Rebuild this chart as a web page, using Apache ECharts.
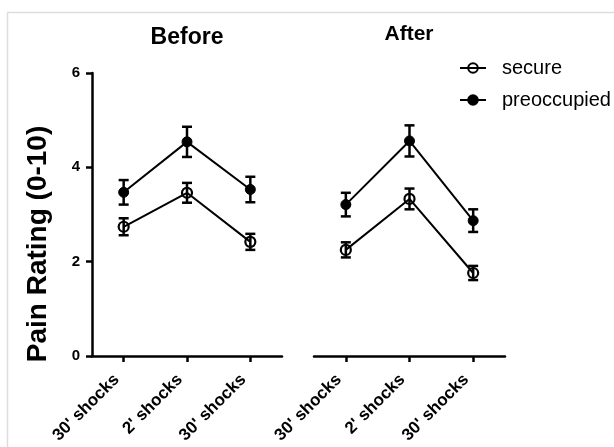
<!DOCTYPE html>
<html>
<head>
<meta charset="utf-8">
<script src="https://cdn.jsdelivr.net/npm/echarts@6/dist/echarts.min.js"></script>
<style>
html,body{margin:0;padding:0;background:#fff;}
#chart{width:614px;height:447px;}
</style>
</head>
<body>
<div id="chart"></div>
<script>
const categories = ["30' shocks", "2' shocks", "30' shocks"];
const yTicks = [0, 2, 4, 6];
const beforeSecure = [2.74, 3.46, 2.42];
const beforeSecureSem = [0.18, 0.21, 0.17];
const beforePreoccupied = [3.47, 4.54, 3.53];
const beforePreoccupiedSem = [0.26, 0.32, 0.27];
const afterSecure = [2.25, 3.33, 1.76];
const afterSecureSem = [0.16, 0.22, 0.15];
const afterPreoccupied = [3.21, 4.56, 2.87];
const afterPreoccupiedSem = [0.25, 0.33, 0.24];
const panelTitles = ['Before', 'After'];
const yAxisTitle = 'Pain Rating (0-10)';

const FONT = 'Liberation Sans, Arial, Helvetica, sans-serif';
const chart = echarts.init(document.getElementById('chart'), null, {renderer: 'canvas'});

function errData(means, sems) {
  return means.map((m, i) => [i, m, sems[i]]);
}
function errSeries(idx, means, sems) {
  return {
    type: 'custom',
    xAxisIndex: idx, yAxisIndex: idx,
    z: 1,
    silent: true,
    data: errData(means, sems),
    renderItem: function (params, api) {
      const x = api.value(0), m = api.value(1), e = api.value(2);
      const top = api.coord([x, m + e]);
      const bot = api.coord([x, m - e]);
      const w = 5;
      const style = {stroke: '#000', lineWidth: 2.5};
      return {
        type: 'group',
        children: [
          {type: 'line', shape: {x1: top[0], y1: top[1], x2: bot[0], y2: bot[1]}, style: style},
          {type: 'line', shape: {x1: top[0] - w, y1: top[1], x2: top[0] + w, y2: top[1]}, style: style},
          {type: 'line', shape: {x1: bot[0] - w, y1: bot[1], x2: bot[0] + w, y2: bot[1]}, style: style}
        ]
      };
    }
  };
}
function lineSeries(name, idx, data, open) {
  return {
    name: name,
    type: 'line',
    xAxisIndex: idx, yAxisIndex: idx,
    z: 3,
    data: data,
    symbol: 'circle',
    symbolSize: 10,
    showSymbol: true,
    color: '#000',
    lineStyle: {color: '#000', width: 2},
    itemStyle: open ? {color: 'rgba(255,255,255,0)', borderColor: '#000', borderWidth: 2.2}
                    : {color: '#000', borderColor: '#000', borderWidth: 1},
    emphasis: {disabled: true},
    animation: false
  };
}

const xAxisCommon = {
  type: 'category',
  data: categories,
  boundaryGap: true,
  axisLine: {show: true, lineStyle: {color: '#000', width: 2.5}},
  axisTick: {show: true, alignWithLabel: true, length: 6, lineStyle: {color: '#000', width: 2.5}},
  axisLabel: {rotate: 45, margin: 14, padding: [0, 10, 0, 0], color: '#000', fontSize: 17, fontWeight: 'bold', fontFamily: FONT, interval: 0},
  splitLine: {show: false}
};

const option = {
  backgroundColor: '#fff',
  animation: false,
  graphic: [{
    type: 'rect',
    shape: {x: 7.5, y: 12.5, width: 620, height: 450},
    style: {fill: 'none', stroke: '#dddddd', lineWidth: 1.5},
    silent: true
  }, {
    type: 'text',
    x: 38, y: 244,
    rotation: Math.PI / 2,
    style: {text: yAxisTitle, fill: '#000', font: 'bold 28px ' + FONT, textAlign: 'center', textVerticalAlign: 'middle'},
    silent: true
  }],
  title: [
    {text: panelTitles[0], left: 187, top: 26, textAlign: 'center', padding: 0,
     textStyle: {fontSize: 23, fontWeight: 'bold', color: '#000', fontFamily: FONT}},
    {text: panelTitles[1], left: 409, top: 24, textAlign: 'center', padding: 0,
     textStyle: {fontSize: 21, fontWeight: 'bold', color: '#000', fontFamily: FONT}}
  ],
  legend: {
    orient: 'vertical',
    left: 454, top: 53,
    itemWidth: 26, itemHeight: 12,
    itemGap: 12,
    data: ['secure', 'preoccupied'],
    textStyle: {fontSize: 20, color: '#000', fontFamily: FONT, padding: [0, 0, 0, 11]},
    selectedMode: false
  },
  grid: [
    {left: 92, top: 73, width: 190, height: 283, containLabel: false},
    {left: 314, top: 73, width: 191, height: 283, containLabel: false}
  ],
  xAxis: [
    Object.assign({}, xAxisCommon, {gridIndex: 0}),
    Object.assign({}, xAxisCommon, {gridIndex: 1})
  ],
  yAxis: [
    {
      type: 'value', gridIndex: 0, min: yTicks[0], max: yTicks[yTicks.length - 1], interval: 2,
      axisLine: {show: true, lineStyle: {color: '#000', width: 2.5}},
      axisTick: {show: true, length: 6, lineStyle: {color: '#000', width: 2.5}},
      axisLabel: {color: '#000', fontSize: 15, fontWeight: 'bold', fontFamily: FONT, margin: 12},
      splitLine: {show: false}
    },
    {
      type: 'value', gridIndex: 1, min: yTicks[0], max: yTicks[yTicks.length - 1], interval: 2,
      show: false, splitLine: {show: false}
    }
  ],
  series: [
    errSeries(0, beforeSecure, beforeSecureSem),
    errSeries(0, beforePreoccupied, beforePreoccupiedSem),
    errSeries(1, afterSecure, afterSecureSem),
    errSeries(1, afterPreoccupied, afterPreoccupiedSem),
    lineSeries('secure', 0, beforeSecure, true),
    lineSeries('preoccupied', 0, beforePreoccupied, false),
    lineSeries('secure', 1, afterSecure, true),
    lineSeries('preoccupied', 1, afterPreoccupied, false)
  ]
};
chart.setOption(option);
</script>
</body>
</html>
